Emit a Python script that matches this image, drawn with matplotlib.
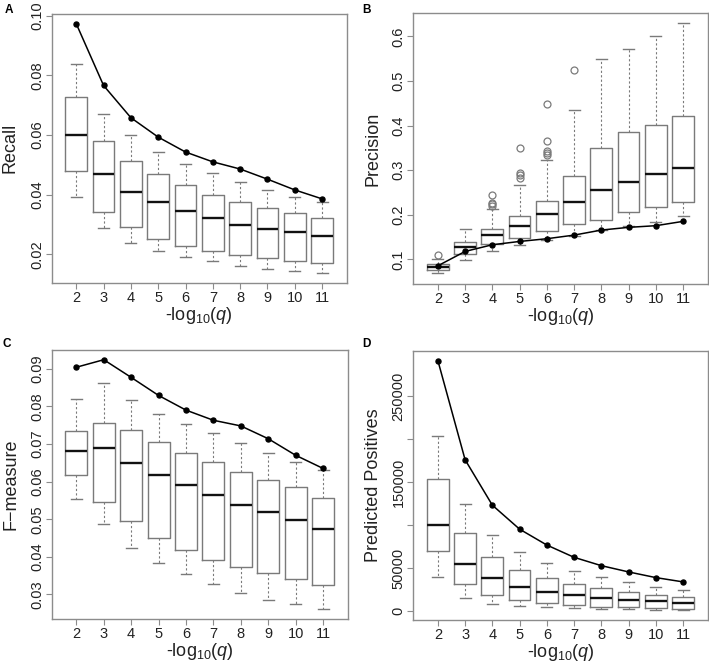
import matplotlib
matplotlib.use("Agg")
import matplotlib.pyplot as plt

plt.rcParams['font.family'] = ['Liberation Sans', 'DejaVu Sans']
plt.rcParams['mathtext.fontset'] = 'custom'
plt.rcParams['mathtext.rm'] = 'Liberation Sans'
plt.rcParams['mathtext.it'] = 'Liberation Sans:italic'

qvals = [2, 3, 4, 5, 6, 7, 8, 9, 10, 11]

# A: Recall
rec_lo = [0.0391, 0.0287, 0.0239, 0.0211, 0.0192, 0.0177, 0.0161, 0.0152, 0.0143, 0.0138]
rec_q1 = [0.0480, 0.0343, 0.0291, 0.0252, 0.0228, 0.0212, 0.0198, 0.0189, 0.0179, 0.0171]
rec_med = [0.0601, 0.0470, 0.0409, 0.0374, 0.0345, 0.0323, 0.0300, 0.0286, 0.0276, 0.0260]
rec_q3 = [0.0727, 0.0581, 0.0513, 0.0469, 0.0431, 0.0399, 0.0376, 0.0356, 0.0339, 0.0321]
rec_hi = [0.0838, 0.0672, 0.0599, 0.0543, 0.0503, 0.0474, 0.0443, 0.0416, 0.0393, 0.0375]
rec_line = [0.0973, 0.0766, 0.0658, 0.0593, 0.0543, 0.0510, 0.0486, 0.0452, 0.0416, 0.0386]

# B: Precision
pre_lo = [0.0692, 0.0993, 0.118, 0.133, 0.144, 0.153, 0.166, 0.174, 0.1847, 0.1973]
pre_q1 = [0.0768, 0.1128, 0.1344, 0.1488, 0.1645, 0.1787, 0.1876, 0.2056, 0.2175, 0.2297]
pre_med = [0.0836, 0.1277, 0.1555, 0.1748, 0.2011, 0.2296, 0.2566, 0.2737, 0.291, 0.306]
pre_q3 = [0.0888, 0.139, 0.1674, 0.1966, 0.2303, 0.2865, 0.350, 0.3847, 0.4004, 0.422]
pre_hi = [0.102, 0.168, 0.2124, 0.2678, 0.3225, 0.435, 0.5494, 0.5711, 0.601, 0.6297]
pre_out = [[0.1097], [], [0.2454, 0.2266, 0.2236, 0.2191],
           [0.3488, 0.294, 0.2888, 0.2837],
           [0.449, 0.3667, 0.343, 0.339, 0.334],
           [0.524], [], [], [], []]
pre_line = [0.0858, 0.118, 0.133, 0.1404, 0.1465, 0.1546, 0.1659, 0.172, 0.1757, 0.1854]

# C: F-measure
f_lo = [0.0555, 0.0487, 0.0423, 0.0384, 0.0355, 0.0328, 0.0304, 0.0285, 0.0274, 0.0262]
f_q1 = [0.0618, 0.0547, 0.0496, 0.0449, 0.0417, 0.0391, 0.0373, 0.0356, 0.0340, 0.0326]
f_med = [0.0680, 0.0688, 0.0650, 0.0618, 0.0592, 0.0565, 0.0538, 0.0519, 0.0498, 0.0475]
f_q3 = [0.0734, 0.0756, 0.0738, 0.0704, 0.0675, 0.0652, 0.0625, 0.0604, 0.0586, 0.0557]
f_hi = [0.0820, 0.0862, 0.0818, 0.0779, 0.0753, 0.0728, 0.0703, 0.0677, 0.0652, 0.0631]
f_line = [0.0904, 0.0924, 0.0877, 0.0829, 0.0790, 0.0763, 0.0748, 0.0714, 0.0670, 0.0635]

# D: Predicted Positives
pp_lo = [40200, 15500, 8500, 5400, 4300, 3500, 2300, 1900, 1500, 1200]
pp_q1 = [70300, 31700, 19300, 13100, 8900, 6600, 5000, 4300, 3100, 2700]
pp_med = [99700, 55300, 38300, 28600, 22400, 18500, 15500, 13500, 11600, 9700]
pp_q3 = [153400, 90400, 63400, 48300, 38600, 31700, 26700, 22800, 19300, 16600]
pp_hi = [204400, 124400, 88900, 69200, 56000, 46800, 39400, 33600, 28600, 24700]
pp_line = [291700, 176200, 123300, 95400, 76900, 62600, 52900, 45600, 39000, 34000]

box_col = '#7a7a7a'
frame_col = '#8c8c8c'
text_col = '#222222'


def panel(ax, lo, q1, med, q3, hi, line, out, ylabel, ylim, yticks, yticklabels):
    stats = []
    for i in range(len(qvals)):
        stats.append({'whislo': lo[i], 'q1': q1[i], 'med': med[i], 'q3': q3[i],
                      'whishi': hi[i], 'fliers': out[i] if out else []})
    ax.bxp(stats, positions=qvals, widths=0.8, showfliers=True, manage_ticks=False,
           boxprops=dict(color=box_col, linewidth=1.0),
           whiskerprops=dict(color=box_col, linewidth=0.8, linestyle=(0, (2, 2))),
           capprops=dict(color=box_col, linewidth=1.0),
           medianprops=dict(color='#111111', linewidth=1.7),
           flierprops=dict(marker='o', markerfacecolor='none', markeredgecolor=box_col,
                           markersize=5, markeredgewidth=0.9))
    ax.plot(qvals, line, color='black', linewidth=1.1, marker='o', markersize=3.6, zorder=5)
    ax.set_xlim(1.1, 11.9)
    ax.set_ylim(*ylim)
    ax.set_xticks(qvals)
    ax.set_xticklabels([str(q) for q in qvals])
    ax.set_yticks(yticks)
    ax.set_yticklabels(yticklabels, rotation=90, va='center')
    for s in ax.spines.values():
        s.set_color(frame_col)
        s.set_linewidth(1.0)
    ax.tick_params(axis='both', colors=frame_col, labelcolor=text_col, labelsize=10.5,
                   length=4)
    ax.tick_params(axis='x', pad=2)
    ax.tick_params(axis='y', pad=1.5)
    ax.set_xlabel(r'-log$_{\mathrm{10}}$($q$)', fontsize=13, color=text_col)
    ax.xaxis.set_label_coords(0.5, -0.082)
    ax.set_ylabel(ylabel, fontsize=13, color=text_col)


fig = plt.figure(figsize=(7.09, 6.62), dpi=100)
axA = fig.add_axes([0.0729, 0.573, 0.416, 0.406])
axB = fig.add_axes([0.583, 0.571, 0.415, 0.409])
axC = fig.add_axes([0.0729, 0.0654, 0.4175, 0.406])
axD = fig.add_axes([0.583, 0.0634, 0.415, 0.407])

panel(axA, rec_lo, rec_q1, rec_med, rec_q3, rec_hi, rec_line, None, 'Recall',
      (0.0105, 0.1006), [0.02, 0.04, 0.06, 0.08, 0.10],
      ['0.02', '0.04', '0.06', '0.08', '0.10'])
panel(axB, pre_lo, pre_q1, pre_med, pre_q3, pre_hi, pre_line, pre_out, 'Precision',
      (0.045, 0.652), [0.1, 0.2, 0.3, 0.4, 0.5, 0.6],
      ['0.1', '0.2', '0.3', '0.4', '0.5', '0.6'])
panel(axC, f_lo, f_q1, f_med, f_q3, f_hi, f_line, None, 'F\u2212measure',
      (0.02355, 0.095), [0.03, 0.04, 0.05, 0.06, 0.07, 0.08, 0.09],
      ['0.03', '0.04', '0.05', '0.06', '0.07', '0.08', '0.09'])
panel(axD, pp_lo, pp_q1, pp_med, pp_q3, pp_hi, pp_line, None, 'Predicted Positives',
      (-10400, 303300), [0, 50000, 100000, 150000, 200000, 250000],
      ['0', '50000', '', '150000', '', '250000'])

axA.yaxis.set_label_coords(-0.112, 0.5)
axC.yaxis.set_label_coords(-0.11, 0.5)
axB.yaxis.set_label_coords(-0.108, 0.5)
axD.yaxis.set_label_coords(-0.108, 0.5)

fig.text(0.007, 0.994, 'A', fontsize=8.5, fontweight='bold', va='top', ha='left')
fig.text(0.511, 0.994, 'B', fontsize=8.5, fontweight='bold', va='top', ha='left')
fig.text(0.003, 0.49, 'C', fontsize=8.5, fontweight='bold', va='top', ha='left')
fig.text(0.511, 0.49, 'D', fontsize=8.5, fontweight='bold', va='top', ha='left')

fig.savefig('out.png', dpi=100)
